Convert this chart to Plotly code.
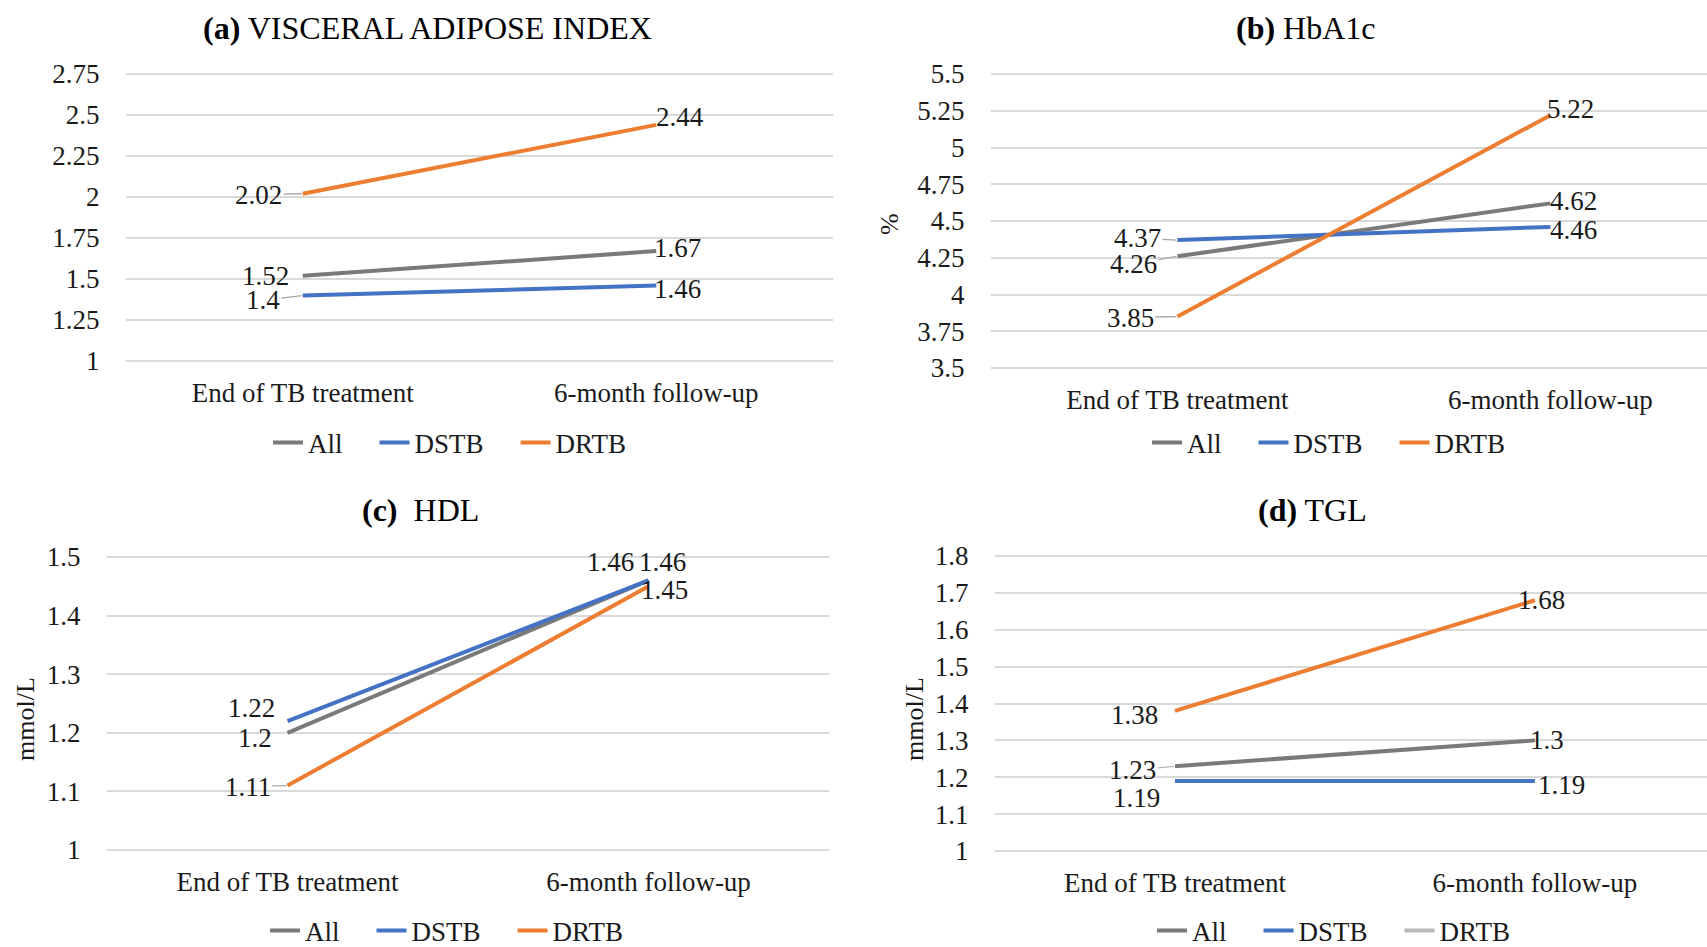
import plotly.graph_objects as go

# ---------------- data ----------------
categories = ["End of TB treatment", "6-month follow-up"]
groups = ["All", "DSTB", "DRTB"]

vai_all = [1.52, 1.67]
vai_dstb = [1.40, 1.46]
vai_drtb = [2.02, 2.44]

hba1c_all = [4.26, 4.62]
hba1c_dstb = [4.37, 4.46]
hba1c_drtb = [3.85, 5.22]

hdl_all = [1.20, 1.46]
hdl_dstb = [1.22, 1.46]
hdl_drtb = [1.11, 1.45]

tgl_all = [1.23, 1.30]
tgl_dstb = [1.19, 1.19]
tgl_drtb = [1.38, 1.68]

vai_ticks = ["1", "1.25", "1.5", "1.75", "2", "2.25", "2.5", "2.75"]
hba1c_ticks = ["3.5", "3.75", "4", "4.25", "4.5", "4.75", "5", "5.25", "5.5"]
hdl_ticks = ["1", "1.1", "1.2", "1.3", "1.4", "1.5"]
tgl_ticks = ["1", "1.1", "1.2", "1.3", "1.4", "1.5", "1.6", "1.7", "1.8"]

titles = ["<b>(a)</b> VISCERAL ADIPOSE INDEX", "<b>(b)</b> HbA1c", "<b>(c)</b>  HDL", "<b>(d)</b> TGL"]
unit_b = "%"
unit_cd = "mmol/L"

# ---------------- style ----------------
W, H = 1707, 947
FONT = "Liberation Serif, Times New Roman, serif"
TXT = "#1a1a1a"
COL = {"All": "#7A7A7A", "DSTB": "#4472C4", "DRTB": "#ED7D31"}
LEADER = "#A6A6A6"
LIGHT = "#B8B8B8"
GRID = "#D9D9D9"
PAD = 2  # px of padding so the end gridlines are drawn
NB = "\u00a0" * 4  # extra spacing after legend texts


def px_x(p):
    return p / W


def px_y(p):
    return 1 - p / H


panels = [
    dict(series=[vai_all, vai_dstb, vai_drtb], ticks=vai_ticks,
         xdom=(126, 833), ydom=(74, 361), xr=[-0.5, 1.5],
         yr=[1, 2.75], title_xy=(427.5, 28), legend_xy=(463, 443),
         offsets={"All": [(-37, 0, None), (21, -3, None)],
                  "DSTB": [(-40, 5, LEADER), (21, 3, None)],
                  "DRTB": [(-44, 1, LEADER), (24, -8, None)]}),
    dict(series=[hba1c_all, hba1c_dstb, hba1c_drtb], ticks=hba1c_ticks,
         xdom=(991, 1707), ydom=(74, 368), xr=[-0.5, 1.42],
         yr=[3.5, 5.5], title_xy=(1306, 28), legend_xy=(1342, 443),
         offsets={"All": [(-44, 8, LEADER), (23, -2, None)],
                  "DSTB": [(-40, -2, LEADER), (23, 3, None)],
                  "DRTB": [(-47, 1, LEADER), (20, -6, None)]}),
    dict(series=[hdl_all, hdl_dstb, hdl_drtb], ticks=hdl_ticks,
         xdom=(107, 829), ydom=(557, 850), xr=[-0.5, 1.5],
         yr=[1, 1.5], title_xy=(420, 510), legend_xy=(460, 931),
         offsets={"All": [(-33, 5, None), (-38, -18, None)],
                  "DSTB": [(-36, -13, None), (14, -18, None)],
                  "DRTB": [(-40, 1, LEADER), (16, 4, None)]}),
    dict(series=[tgl_all, tgl_dstb, tgl_drtb], ticks=tgl_ticks,
         xdom=(995, 1707), ydom=(556, 851), xr=[-0.5, 1.478],
         yr=[1, 1.8], title_xy=(1312, 510), legend_xy=(1347, 931),
         offsets={"All": [(-42, 4, LIGHT), (12, 0, None)],
                  "DSTB": [(-38, 17, None), (27, 4, None)],
                  "DRTB": [(-40, 4, None), (7, 0, None)]}),
]

fig = go.Figure()
annotations = []
layout = dict(
    width=W, height=H, autosize=False,
    margin=dict(l=0, r=0, t=0, b=0, pad=0, autoexpand=False),
    paper_bgcolor="white", plot_bgcolor="white",
    font=dict(family=FONT, size=27, color=TXT),
    showlegend=True,
)

for i, p in enumerate(panels):
    n = i + 1
    xa = "x" if n == 1 else f"x{n}"
    ya = "y" if n == 1 else f"y{n}"
    leg = "legend" if n == 1 else f"legend{n}"
    for g, vals in zip(groups, p["series"]):
        show = not (n == 4 and g == "DRTB")
        fig.add_trace(go.Scatter(
            x=categories, y=vals, mode="lines", name=g + NB,
            line=dict(color=COL[g], width=4),
            xaxis=xa, yaxis=ya, legend=leg, showlegend=show,
            hoverinfo="skip"))
        for j, v in enumerate(vals):
            ax, ay, lc = p["offsets"][g][j]
            annotations.append(dict(
                x=categories[j], y=v, xref=xa, yref=ya,
                text=f"{v:g}", showarrow=True, ax=ax, ay=ay,
                arrowhead=0, arrowwidth=1.3, standoff=1,
                arrowcolor=lc if lc else "rgba(0,0,0,0)",
                font=dict(family=FONT, size=27, color=TXT)))
    if n == 4:
        # legend entry of panel (d) is drawn in light gray in the original
        fig.add_trace(go.Scatter(
            x=[None], y=[None], mode="lines", name="DRTB" + NB,
            line=dict(color=LIGHT, width=4),
            xaxis=xa, yaxis=ya, legend=leg, showlegend=True))

    top, bot = p["ydom"]
    per_px = (p["yr"][1] - p["yr"][0]) / (bot - top)
    yr = [p["yr"][0] - PAD * per_px, p["yr"][1] + PAD * per_px]

    axkey = "xaxis" if n == 1 else f"xaxis{n}"
    aykey = "yaxis" if n == 1 else f"yaxis{n}"
    layout[axkey] = dict(
        domain=[px_x(p["xdom"][0]), px_x(p["xdom"][1])],
        anchor=ya, type="category", categoryorder="array",
        categoryarray=categories, range=p["xr"],
        showgrid=False, zeroline=False, showline=False,
        ticks="outside", ticklen=6, tickcolor="rgba(0,0,0,0)",
        tickfont=dict(family=FONT, size=27, color=TXT), fixedrange=True)
    layout[aykey] = dict(
        domain=[px_y(bot + PAD), px_y(top - PAD)],
        anchor=xa, range=yr,
        tickvals=[float(t) for t in p["ticks"]], ticktext=p["ticks"],
        showgrid=True, gridcolor=GRID, gridwidth=1.5,
        zeroline=False, showline=False,
        ticks="outside", ticklen=20, tickcolor="rgba(0,0,0,0)",
        tickfont=dict(family=FONT, size=27, color=TXT), fixedrange=True)
    layout[leg] = dict(
        orientation="h", x=px_x(p["legend_xy"][0]), xanchor="center",
        y=px_y(p["legend_xy"][1]), yanchor="middle",
        font=dict(family=FONT, size=27, color=TXT),
        bgcolor="rgba(0,0,0,0)", itemwidth=30, traceorder="normal")
    annotations.append(dict(
        x=px_x(p["title_xy"][0]), y=px_y(p["title_xy"][1]),
        xref="paper", yref="paper", xanchor="center", yanchor="middle",
        text=titles[i], showarrow=False,
        font=dict(family=FONT, size=32, color="black")))

# axis titles
for (ux, uy, ut) in [(890, 224, unit_b), (25, 719, unit_cd), (914, 719, unit_cd)]:
    annotations.append(dict(x=px_x(ux), y=px_y(uy), xref="paper", yref="paper",
                            xanchor="center", yanchor="middle",
                            text=ut, textangle=-90, showarrow=False,
                            font=dict(family=FONT, size=26, color=TXT)))

layout["annotations"] = annotations
fig.update_layout(**layout)
fig.write_html("out.html", config={"displayModeBar": False},
               post_script="document.body.style.margin='0px';")
